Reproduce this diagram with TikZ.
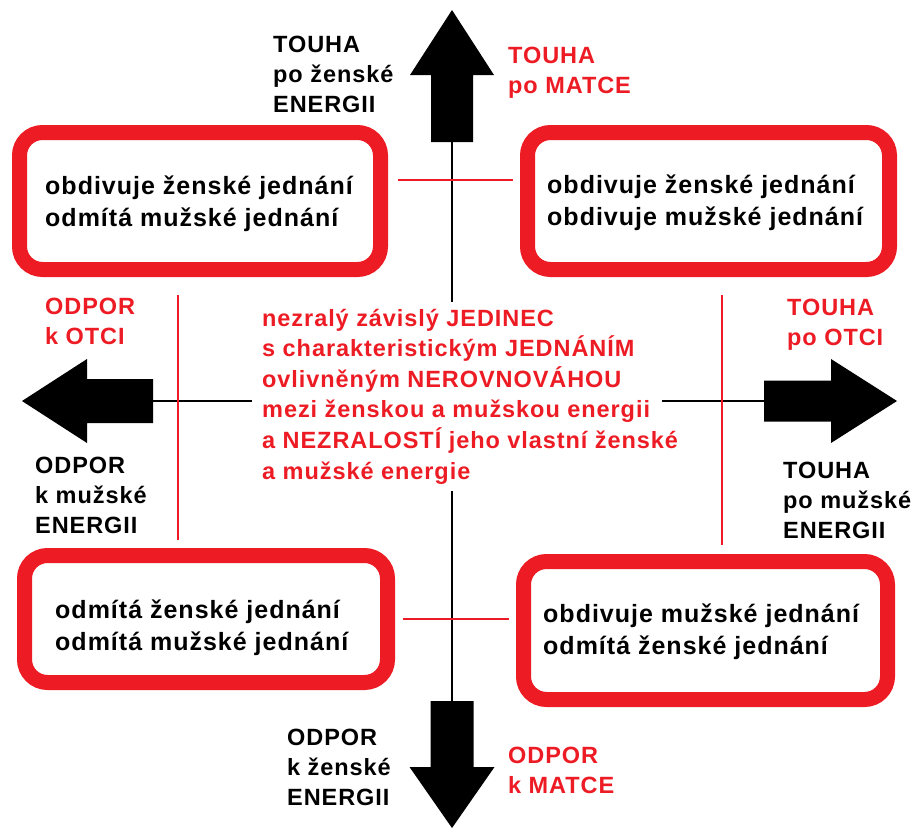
\documentclass[tikz,border=0pt]{standalone}
\usepackage{fontspec}
\setmainfont{Liberation Sans}[LetterSpace=4]
\definecolor{pred}{RGB}{237,28,36}
\begin{document}
\begin{tikzpicture}[x=1pt,y=-1pt,
  box/.style={draw=pred, line width=15pt, rounded corners=23pt, outer sep=7.5pt, fill=white, inner sep=0pt},
  boxtext/.style={font=\fontsize{25}{32}\selectfont\bfseries, align=left, inner sep=0pt, anchor=west},
  lab/.style={font=\fontsize{23.5}{30}\selectfont\bfseries, align=left, inner sep=0pt, anchor=west},
  redlab/.style={lab, text=pred},
  link/.style={draw=pred, line width=1.5pt},
  axis/.style={draw=black, line width=1.5pt},
  bigarrow/.style={fill=black}]
\fill[white] (0,0) rectangle (920,830);
\useasboundingbox (0,0) rectangle (920,830);
% big arrows
\fill[bigarrow] (431,142) -- (431,75) -- (410,75) -- (452,10) -- (494,75) -- (473,75) -- (473,142) -- cycle;
\coordinate (tTail) at (452,142);
\fill[bigarrow] (430.5,701) -- (473.5,701) -- (473.5,767) -- (494.5,767) -- (452,828) -- (409.5,767) -- (430.5,767) -- cycle;
\coordinate (bTail) at (452,701);
\fill[bigarrow] (153,379) -- (87,379) -- (87,359) -- (22,401) -- (87,443) -- (87,423) -- (153,423) -- cycle;
\coordinate (lTail) at (153,401);
\fill[bigarrow] (764,380.5) -- (831,380.5) -- (831,359) -- (897,401) -- (831,443) -- (831,421.5) -- (764,421.5) -- cycle;
\coordinate (rTail) at (764,401);
% centre text
\node[text=pred, font=\fontsize{23.5}{30.6}\selectfont\bfseries, align=left,
  inner xsep=10pt, inner ysep=7pt, anchor=west] (mid) at (252,396.5)
  {nezralý závislý JEDINEC\\s charakteristickým JEDNÁNÍM\\ovlivněným NEROVNOVÁHOU\\mezi ženskou a mužskou energii\\a NEZRALOSTÍ jeho vlastní ženské\\a mužské energie};
\coordinate (rGap) at ([xshift=-26pt]mid.east);
% axes
\draw[axis] (tTail) -- (mid.north -| tTail);
\draw[axis] (mid.south -| bTail) -- (bTail);
\draw[axis] (lTail) -- (mid.west |- lTail);
\draw[axis] (rGap |- rTail) -- (rTail);
% boxes
\node[box, minimum width=361pt, minimum height=137pt] (b1) at (200,201) {};
\node[box, minimum width=362pt, minimum height=137pt] (b2) at (708.5,201) {};
\node[box, minimum width=363pt, minimum height=127pt] (b3) at (206,619) {};
\node[box, minimum width=364pt, minimum height=138pt] (b4) at (705.5,630.5) {};
\node[boxtext] (t1) at (45,204) {obdivuje ženské jednání\\odmítá mužské jednání};
\node[boxtext] (t2) at (547,202.5) {obdivuje ženské jednání\\obdivuje mužské jednání};
\node[boxtext] (t3) at (55,628) {odmítá ženské jednání\\odmítá mužské jednání};
\node[boxtext] (t4) at (543,632) {obdivuje mužské jednání\\odmítá ženské jednání};
% thin red links
\draw[link] ([xshift=10pt,yshift=21pt]b1.east) -- ([xshift=-7pt,yshift=21pt]b2.west);
\draw[link] ([xshift=-22pt,yshift=-18pt]b1.south) -- ([xshift=-28pt,yshift=8pt]b3.north);
\draw[link] ([xshift=13.5pt,yshift=-18pt]b2.south) -- ([xshift=16.5pt,yshift=9pt]b4.north);
\draw[link] ([xshift=8pt]b3.east) -- ([xshift=-7pt,yshift=11.5pt]b4.west);
% labels
\node[lab] (l1) at (273,74) {TOUHA\\po ženské\\ENERGII};
\node[redlab] (l2) at (508,73) {TOUHA\\po MATCE};
\node[redlab] (l3) at (45,321) {ODPOR\\k OTCI};
\node[lab] (l4) at (35,495) {ODPOR\\k mužské\\ENERGII};
\node[redlab] (l5) at (787,325) {TOUHA\\po OTCI};
\node[lab] (l6) at (783,500) {TOUHA\\po mužské\\ENERGII};
\node[lab] (l7) at (287,767) {ODPOR\\k ženské\\ENERGII};
\node[redlab] (l8) at (508,770) {ODPOR\\k MATCE};
\end{tikzpicture}
\end{document}
